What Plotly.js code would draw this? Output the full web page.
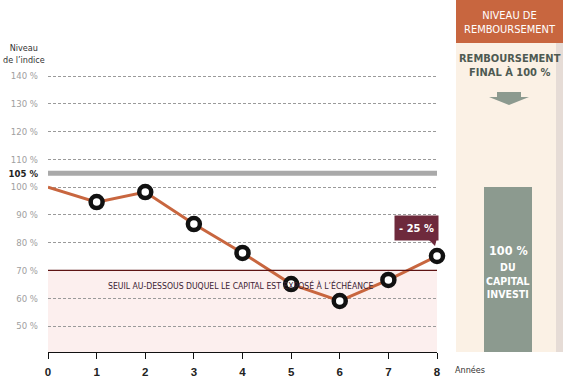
<!DOCTYPE html>
<html><head><meta charset="utf-8">
<script src="https://cdn.plot.ly/plotly-3.0.1.min.js"></script>
<style>html,body{margin:0;padding:0;background:#fff}#c{width:563px;height:381px}</style>
</head><body><div id="c"></div>
<script>
const years = [0,1,2,3,4,5,6,7,8];
const indexLevel = [100,94.6,98.2,86.7,76.3,65.1,59.0,66.6,75.2];
const markerShown = [0,1,1,1,1,1,1,1,1];
const yTickVals = [50,60,70,80,90,100,105,110,120,130,140];
const yTickText = ['50 %','60 %','70 %','80 %','90 %','100 %','<span style="color:#222"><b>105 %</b></span>','110 %','120 %','130 %','140 %'];
const barrierLevel = 70;
const repaymentLevel = 105;
const capitalLevel = [100];
const capitalLabel = ['Capital'];
const finalPerf = '- 25 %';

const W=563,H=381,L=48,R=0,T=0,B=29;
const PW=W-L-R, PH=H-T-B;
const px = v => (v-L)/PW;
const py = v => (H-B-v)/PH;
const yMin=40.64, yMax=167.36;
const NF = '"Liberation Sans Narrow","DejaVu Sans Condensed","Roboto",sans-serif';

const traces = [
  {x: years, y: indexLevel, type:'scatter', mode:'lines', xaxis:'x', yaxis:'y',
   line:{color:'#c8663f', width:3}, cliponaxis:false, hoverinfo:'skip'},
  {x: years.filter((_,i)=>markerShown[i]), y: indexLevel.filter((_,i)=>markerShown[i]), type:'scatter', mode:'markers',
   xaxis:'x', yaxis:'y', cliponaxis:false,
   marker:{symbol:'circle', size:12, color:'#ffffff', line:{color:'#111111', width:4.5}},
   hoverinfo:'skip'},
  {x: capitalLabel, y: capitalLevel, type:'bar', xaxis:'x2', yaxis:'y2',
   marker:{color:'#8c9a8f'}, width:1, hoverinfo:'skip'}
];

const shapes = [
  {type:'rect', xref:'paper', yref:'paper', x0:px(456), x1:px(563), y0:py(352), y1:py(43), fillcolor:'#fbf1e5', line:{width:0}, layer:'below'},
  {type:'rect', xref:'paper', yref:'paper', x0:px(556), x1:px(563), y0:py(352), y1:py(43), fillcolor:'#e6dcd6', line:{width:0}, layer:'below'},
  {type:'rect', xref:'paper', yref:'paper', x0:px(456), x1:px(563), y0:py(43), y1:py(0), fillcolor:'#c8663f', line:{width:0}, layer:'below'},
  {type:'path', xref:'paper', yref:'paper',
   path:`M ${px(497)} ${py(92)} L ${px(521)} ${py(92)} L ${px(521)} ${py(97)} L ${px(529)} ${py(97)} L ${px(509)} ${py(105)} L ${px(489)} ${py(97)} L ${px(497)} ${py(97)} Z`,
   fillcolor:'#8c9a8f', line:{width:0}},
  {type:'rect', xref:'x', yref:'y', x0:0, x1:8, y0:yMin, y1:barrierLevel, fillcolor:'#fcefee', line:{width:0}, layer:'below'},
  {type:'line', xref:'x', yref:'y', x0:0, x1:8, y0:barrierLevel, y1:barrierLevel, line:{color:'#5e1414', width:1.2}},
  {type:'line', xref:'x', yref:'y', x0:0, x1:8, y0:repaymentLevel, y1:repaymentLevel, line:{color:'#a9a9a9', width:5}},
  {type:'path', xref:'paper', yref:'paper',
   path:`M ${px(427)} ${py(238)} L ${px(437)} ${py(238)} L ${px(435)} ${py(246)} Z`,
   fillcolor:'#6e2a3c', line:{width:0}}
];

const annotations = [
  {xref:'paper', yref:'paper', x:px(24), y:py(54), text:'Niveau<br>de l\u2019indice', showarrow:false,
   font:{family:NF, size:9, color:'#333'}, xanchor:'center', yanchor:'middle'},
  {xref:'paper', yref:'paper', x:px(470), y:py(370), text:'Années', showarrow:false,
   font:{family:NF, size:9, color:'#333'}, xanchor:'center', yanchor:'middle'},
  {xref:'x', yref:'y', x:3.95, y:64.6, text:'SEUIL AU-DESSOUS DUQUEL LE CAPITAL EST EXPOSÉ À L\u2019ÉCHÉANCE', showarrow:false,
   font:{family:NF, size:8.6, color:'#3b2233'}, xanchor:'center', yanchor:'middle'},
  {xref:'paper', yref:'paper', x:px(416.5), y:py(228), text:'<b>'+finalPerf+'</b>', showarrow:false,
   font:{family:NF, size:11, color:'#ffffff'}, bgcolor:'#6e2a3c', width:41, height:22, xanchor:'center', yanchor:'middle'},
  {xref:'paper', yref:'paper', x:px(509.5), y:py(22), text:'NIVEAU DE<br>REMBOURSEMENT', showarrow:false,
   font:{family:NF, size:11, color:'#ffffff'}, xanchor:'center', yanchor:'middle'},
  {xref:'paper', yref:'paper', x:px(509.5), y:py(65), text:'<b>REMBOURSEMENT<br>FINAL À 100 %</b>', showarrow:false,
   font:{family:NF, size:11, color:'#4e5a52'}, xanchor:'center', yanchor:'middle'},
  {xref:'paper', yref:'paper', x:px(508), y:py(250), text:'<b>100 %</b>', showarrow:false,
   font:{family:NF, size:12.5, color:'#ffffff'}, xanchor:'center', yanchor:'middle'},
  {xref:'paper', yref:'paper', x:px(508), y:py(280), text:'<b>DU<br>CAPITAL<br>INVESTI</b>', showarrow:false,
   font:{family:NF, size:10.5, color:'#ffffff'}, xanchor:'center', yanchor:'middle'}
];

const layout = {
  width:W, height:H, margin:{l:L, r:R, t:T, b:B, pad:0},
  paper_bgcolor:'#ffffff', plot_bgcolor:'rgba(0,0,0,0)', showlegend:false,
  xaxis:{domain:[0, px(437)], range:[0,8], tickvals:years, ticks:'outside', ticklen:6, tickcolor:'#111',
    showline:true, linecolor:'#111', linewidth:1.2, showgrid:false, zeroline:false, fixedrange:true,
    tickfont:{family:'"Liberation Sans","Roboto",sans-serif', size:11.5, color:'#222', weight:'bold'}, ticklabelstandoff:3},
  yaxis:{domain:[0,1], range:[yMin,yMax], tickvals:yTickVals, ticktext:yTickText, showline:false, zeroline:false,
    showgrid:true, gridcolor:'#9a9a9a', gridwidth:1, griddash:'3px,2px', ticks:'', ticklabelstandoff:9,
    tickfont:{family:NF, size:9.5, color:'#a0a0a0'}, fixedrange:true},
  xaxis2:{domain:[px(484), px(532)], anchor:'y2', range:[-0.5,0.5], visible:false, fixedrange:true},
  yaxis2:{domain:[0,1], anchor:'x2', range:[yMin,yMax], visible:false, fixedrange:true},
  shapes, annotations
};
Plotly.newPlot('c', traces, layout, {displayModeBar:false, staticPlot:true});
</script></body></html>
